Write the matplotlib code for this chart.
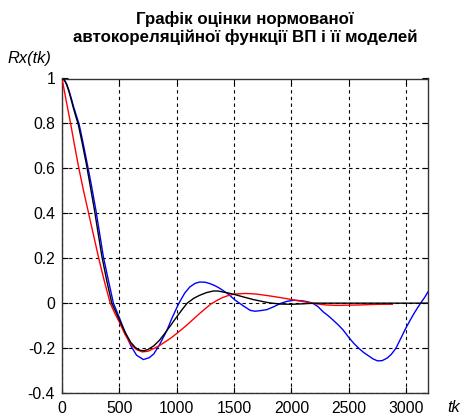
import matplotlib
matplotlib.use("Agg")
import matplotlib.pyplot as plt

# Normalised autocorrelation estimate and its two models
t_est = [0, 20, 40, 60, 80, 100, 120, 142, 175, 212, 245, 281, 314, 347, 390,
         434, 470, 500, 550, 600, 640, 680, 715, 750, 800, 850, 900, 950, 1000,
         1045, 1091, 1150, 1200, 1260, 1318, 1360, 1400, 1450, 1493, 1550, 1600,
         1667, 1750, 1812, 1900, 2000, 2100, 2200, 2400, 2600, 2800, 3000, 3190]
r_est = [1.0, 0.993, 0.973, 0.943, 0.906, 0.867, 0.832, 0.795, 0.715, 0.62, 0.525,
         0.42, 0.315, 0.21, 0.1, 0.0, -0.04, -0.075, -0.13, -0.175, -0.198, -0.21,
         -0.212, -0.206, -0.19, -0.165, -0.132, -0.097, -0.061, -0.03, 0.0, 0.022,
         0.035, 0.047, 0.054, 0.054, 0.05, 0.045, 0.04, 0.032, 0.025, 0.016, 0.007,
         0.001, -0.004, -0.005, -0.003, 0.0, 0.0, 0.0, 0.0, 0.0, 0.0]

t_m1 = [0, 37, 75, 110, 147, 188, 232, 276, 320, 368, 420, 460, 500, 550, 600,
        650, 700, 750, 800, 850, 900, 950, 1000, 1050, 1100, 1150, 1200, 1250,
        1300, 1350, 1400, 1450, 1500, 1550, 1600, 1650, 1700, 1800, 1900, 2000,
        2100, 2200, 2300, 2400, 2500, 2600, 2700, 2800, 2880]
r_m1 = [1.0, 0.9, 0.8, 0.7, 0.6, 0.5, 0.4, 0.3, 0.2, 0.1, 0.0, -0.045, -0.085,
        -0.14, -0.183, -0.207, -0.217, -0.214, -0.202, -0.189, -0.172, -0.155,
        -0.135, -0.114, -0.092, -0.069, -0.046, -0.024, -0.003, 0.012, 0.025,
        0.034, 0.04, 0.042, 0.043, 0.042, 0.04, 0.033, 0.025, 0.016, 0.007,
        -0.002, -0.008, -0.01, -0.009, -0.008, -0.006, -0.005, -0.005]

t_m2 = [0, 20, 40, 60, 80, 100, 125, 150, 185, 222, 258, 295, 328, 361, 405, 448,
        500, 550, 600, 650, 709, 760, 800, 850, 911, 960, 1019, 1070, 1114, 1160,
        1200, 1250, 1300, 1340, 1378, 1450, 1510, 1580, 1640, 1680, 1720, 1785,
        1850, 1900, 1960, 2026, 2100, 2150, 2190, 2230, 2277, 2320, 2364, 2410,
        2451, 2500, 2545, 2589, 2630, 2676, 2710, 2750, 2790, 2836, 2870, 2909,
        2950, 2995, 3030, 3068, 3100, 3126, 3160, 3190]
r_m2 = [1.0, 0.994, 0.976, 0.948, 0.913, 0.876, 0.835, 0.795, 0.71, 0.615, 0.52,
        0.415, 0.31, 0.205, 0.1, 0.0, -0.065, -0.13, -0.19, -0.232, -0.251, -0.243,
        -0.226, -0.185, -0.125, -0.065, 0.0, 0.045, 0.072, 0.088, 0.094, 0.093,
        0.085, 0.076, 0.065, 0.04, 0.013, -0.012, -0.032, -0.036, -0.034, -0.029,
        -0.015, -0.002, 0.008, 0.013, 0.01, 0.005, -0.002, -0.015, -0.039, -0.056,
        -0.076, -0.098, -0.12, -0.153, -0.18, -0.202, -0.22, -0.236, -0.248,
        -0.257, -0.256, -0.244, -0.228, -0.202, -0.16, -0.113, -0.08, -0.046,
        -0.02, 0.0, 0.025, 0.05]

x_ticks = [0, 500, 1000, 1500, 2000, 2500, 3000]
y_ticks = [-0.4, -0.2, 0, 0.2, 0.4, 0.6, 0.8, 1]
y_tick_labels = ["-0.4", "-0.2", "0", "0.2", "0.4", "0.6", "0.8", "1"]

title_text = "Графік оцінки нормованої\nавтокореляційної функції ВП і її моделей"

plt.rcParams["font.family"] = ["Liberation Sans", "DejaVu Sans"]

fig = plt.figure(figsize=(4.63, 4.16), dpi=100)
W, H = 463, 416
ax = fig.add_axes([62 / W, 1 - 393 / H, (428 - 62) / W, (393 - 78.5) / H])

ax.plot(t_m2, r_m2, color="#0000ff", lw=1.0, zorder=3)
ax.plot(t_m1, r_m1, color="#ff0000", lw=1.0, zorder=4)
ax.plot(t_est, r_est, color="black", lw=1.0, zorder=5)

ax.set_xlim(0, 3190)
ax.set_ylim(-0.4, 1)
ax.set_xticks(x_ticks)
ax.set_xticklabels([str(v) for v in x_ticks])
ax.set_yticks(y_ticks)
ax.set_yticklabels(y_tick_labels)

ax.grid(True, color="black", linestyle=(0, (3, 3)), linewidth=0.8)
ax.tick_params(direction="in", length=4, width=0.8, top=True, right=True,
               labelsize=11.3, colors="black")
ax.tick_params(axis="x", pad=6)
ax.tick_params(axis="y", pad=5)
for s in ax.spines.values():
    s.set_linewidth(1.0)
    s.set_color("#333333")

fig.text(245 / W, 1 - 28 / H, title_text, ha="center", va="center",
         fontsize=12.2, fontweight="bold", linespacing=1.2)
fig.text(8 / W, 1 - 58 / H, "Rx(tk)", ha="left", va="center",
         fontsize=11.8, style="italic")
fig.text(447 / W, 1 - 407 / H, "tk", ha="left", va="center",
         fontsize=11.8, style="italic")

fig.savefig("out.png", dpi=100, facecolor="white")
